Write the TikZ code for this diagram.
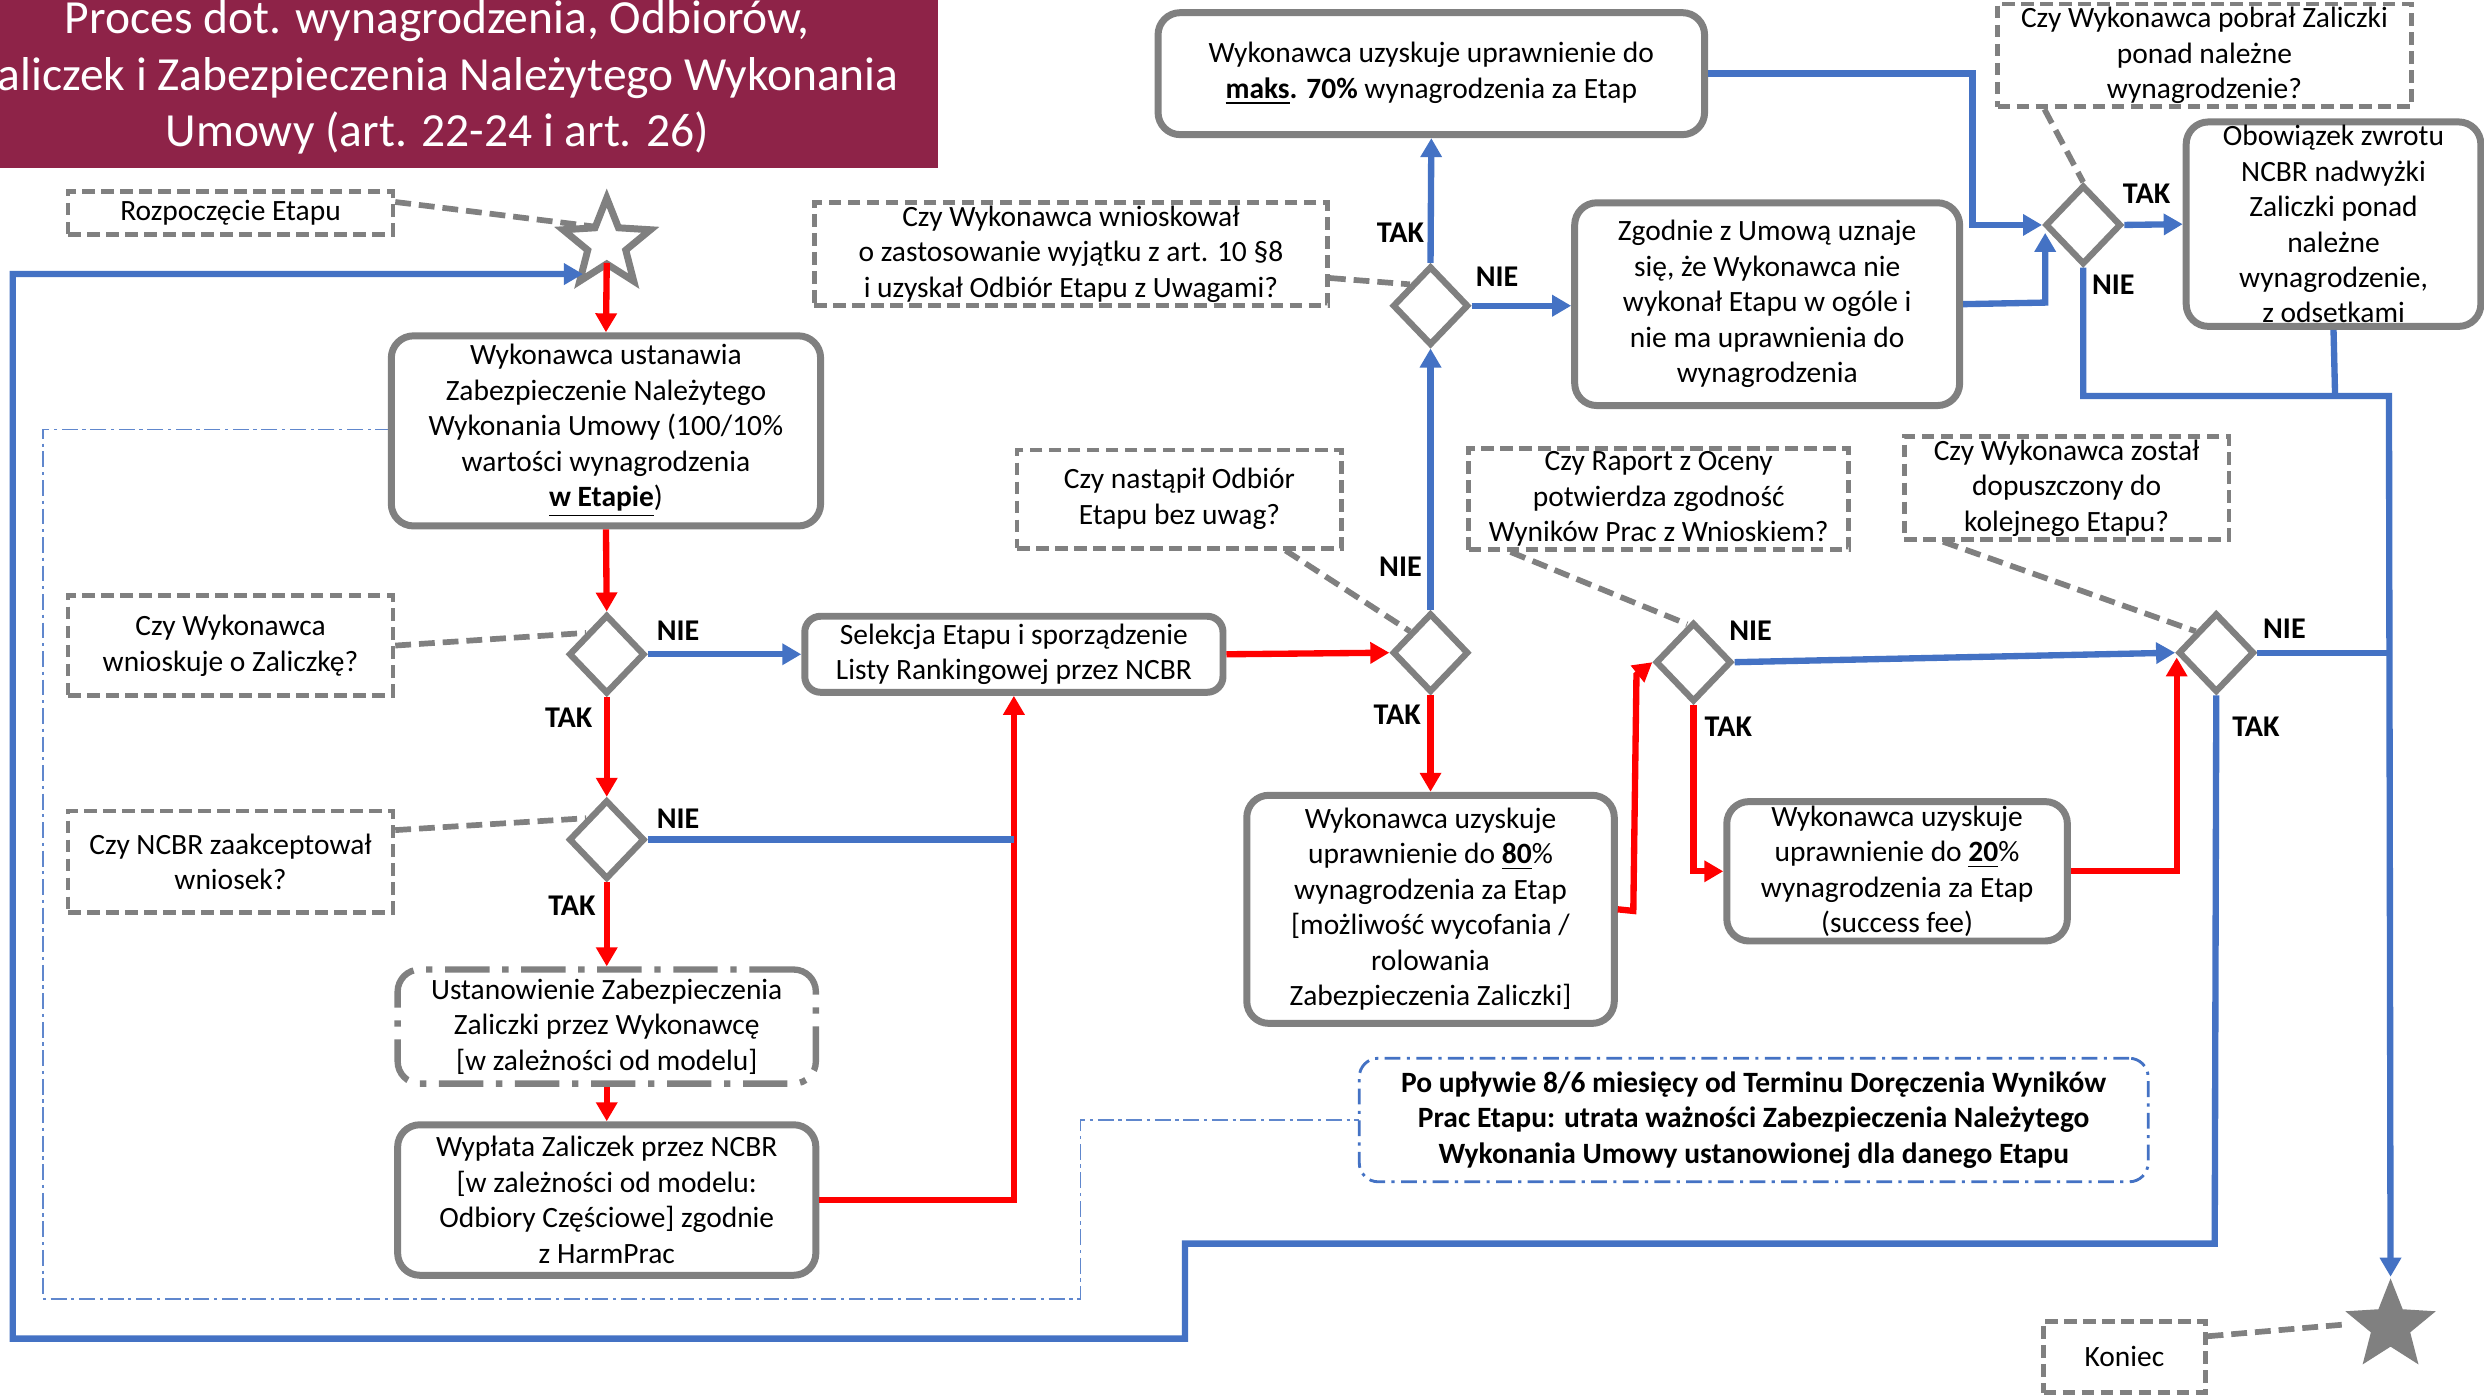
\documentclass[tikz,border=0pt]{standalone}
\usepackage{fontspec}
\setmainfont{Carlito}
\usetikzlibrary{shapes.geometric,arrows.meta,calc}
\definecolor{bl}{RGB}{68,114,196}
\definecolor{rd}{RGB}{255,0,0}
\definecolor{gr}{RGB}{128,128,128}
\definecolor{titlecol}{RGB}{142,35,72}
\newcommand{\bodyfont}{\fontsize{9.3}{11.2}\selectfont}
\tikzset{
  box/.style={draw=gr, line width=2.2pt, rounded corners=7pt, fill=white, align=center, inner sep=1pt, font=\bodyfont},
  qbox/.style={draw=gr, line width=1.5pt, dash pattern=on 4pt off 2pt, fill=white, align=center, inner sep=1pt, font=\bodyfont},
  dia/.style={draw=gr, line width=2pt, diamond, fill=white, minimum width=24pt, minimum height=25pt, inner sep=0pt},
  lbl/.style={font=\fontsize{9.5}{11}\selectfont\bfseries, inner sep=0pt},
  bcon/.style={draw=bl, line width=2pt},
  rcon/.style={draw=rd, line width=2pt},
  arr/.style={-{Triangle[length=6pt,width=6.5pt]}},
  dcon/.style={draw=gr, line width=1.8pt, dash pattern=on 5pt off 2.5pt},
  thinbl/.style={draw=bl!85, line width=0.5pt, dash pattern=on 5pt off 1.5pt on 1pt off 1.5pt}
}
\begin{document}
\begin{tikzpicture}[x=0.5pt,y=-0.5pt]
\useasboundingbox (0,0) rectangle (1568,882);
\clip (0,0) rectangle (1568,882);
\fill[white] (0,0) rectangle (1568,882);
% title
\fill[titlecol] (-5,-5) rectangle (592,106);
\node[text=white, align=center, font=\fontsize{15}{17.8}\selectfont] (title) at (276,49)
  {Proces dot. wynagrodzenia, Odbiorów,\\Zaliczek i Zabezpieczenia Należytego Wykonania\\Umowy (art. 22-24 i art. 26)};

% thin dash-dot blue guide
\draw[thinbl] (247,271) -- (27,271) -- (27,820) -- (682,820) -- (682,707) -- (858,707);

% nodes
\node[star, star points=5, star point ratio=2.3, minimum size=29pt, draw=gr, line width=2.2pt, fill=white, inner sep=0pt] (st) at (383,154) {};
\node[star, star points=5, star point ratio=2.3, minimum size=30pt, fill=gr, inner sep=0pt] (en) at (1509,837) {};

\node[qbox, minimum width=102.5pt, minimum height=13.5pt] (roz) at (145.5,134.5) {Rozpoczęcie Etapu};
\node[qbox, minimum width=102.5pt, minimum height=31.5pt] (qzal) at (145.5,407.5) {Czy Wykonawca\\wnioskuje o Zaliczkę?};
\node[qbox, minimum width=102.5pt, minimum height=32pt] (qncbr) at (145.5,544) {Czy NCBR zaakceptował\\wniosek?};
\node[box, minimum width=135.5pt, minimum height=60pt] (ust) at (382.5,272)
  {Wykonawca ustanawia\\Zabezpieczenie Należytego\\Wykonania Umowy (100/10\%\\wartości wynagrodzenia\\\underline{\textbf{w Etapie}})};
\node[box, minimum width=132pt, minimum height=24pt, rounded corners=5pt] (sel) at (640,413)
  {Selekcja Etapu i sporządzenie\\Listy Rankingowej przez NCBR};
\node[box, minimum width=132pt, minimum height=36pt, dash pattern=on 14pt off 4pt on 2pt off 4pt, line width=2pt] (ustz) at (383,648)
  {Ustanowienie Zabezpieczenia\\Zaliczki przez Wykonawcę\\{[w zależności od modelu]}};
\node[box, minimum width=132pt, minimum height=47.5pt] (wyp) at (383,757.5)
  {Wypłata Zaliczek przez NCBR\\{[w zależności od modelu:}\\Odbiory Częściowe] zgodnie\\z HarmPrac};
\node[qbox, minimum width=102.5pt, minimum height=31pt] (qodb) at (744.5,315) {Czy nastąpił Odbiór\\Etapu bez uwag?};
\node[qbox, minimum width=162pt, minimum height=32.5pt] (qwyj) at (676,160.5)
  {Czy Wykonawca wnioskował\\o zastosowanie wyjątku z art. 10 §8\\i uzyskał Odbiór Etapu z Uwagami?};
\node[box, minimum width=172.5pt, minimum height=38.5pt] (b70) at (903.5,46.5)
  {Wykonawca uzyskuje uprawnienie do\\\underline{\textbf{maks}}\textbf{. 70\%} wynagrodzenia za Etap};
\node[box, minimum width=121.5pt, minimum height=64pt] (zgod) at (1115.5,192)
  {Zgodnie z Umową uznaje\\się, że Wykonawca nie\\wykonał Etapu w ogóle i\\nie ma uprawnienia do\\wynagrodzenia};
\node[qbox, minimum width=130.5pt, minimum height=31.5pt] (qpob) at (1391.5,35)
  {Czy Wykonawca pobrał Zaliczki\\ponad należne\\wynagrodzenie?};
\node[box, minimum width=93pt, minimum height=64.5pt] (obow) at (1473,141.5)
  {Obowiązek zwrotu\\NCBR nadwyżki\\Zaliczki ponad\\należne\\wynagrodzenie,\\z odsetkami};
\node[box, minimum width=116pt, minimum height=72pt] (b80) at (903,574)
  {Wykonawca uzyskuje\\uprawnienie do \underline{\textbf{80}}\%\\wynagrodzenia za Etap\\{[możliwość wycofania /}\\rolowania\\Zabezpieczenia Zaliczki]};
\node[qbox, minimum width=120pt, minimum height=31pt] (qrap) at (1047,315)
  {Czy Raport z Oceny\\potwierdza zgodność\\Wyników Prac z Wnioskiem?};
\node[box, minimum width=107.5pt, minimum height=44pt] (b20) at (1197.5,550)
  {Wykonawca uzyskuje\\uprawnienie do \underline{\textbf{20}}\%\\wynagrodzenia za Etap\\(success fee)};
\node[qbox, minimum width=102.5pt, minimum height=31pt] (qdop) at (1304.5,308)
  {Czy Wykonawca został\\dopuszczony do\\kolejnego Etapu?};
\node[qbox, minimum width=51pt, minimum height=22.5pt] (kon) at (1341,856.5) {Koniec};
\node[draw=bl, line width=0.9pt, dash pattern=on 5pt off 2pt on 1pt off 2pt, rounded corners=6pt, align=center,
      minimum width=249pt, minimum height=39pt, inner sep=1pt, font=\bodyfont\bfseries] (po) at (1107,707)
  {Po upływie 8/6 miesięcy od Terminu Doręczenia Wyników\\Prac Etapu: utrata ważności Zabezpieczenia Należytego\\Wykonania Umowy ustanowionej dla danego Etapu};

% diamonds
\node[dia] (d1) at (383,413) {};
\node[dia] (d2) at (383,530) {};
\node[dia] (d3) at (903,412) {};
\node[dia] (d4) at (903,193) {};
\node[dia] (d5) at (1315,142) {};
\node[dia] (d7) at (1069,418) {};
\node[dia] (d8) at (1399,412) {};

% dashed callouts
\draw[dcon] ($(roz.east)+(0,-7)$) -- ($(st.center)+(-8,-11)$);
\draw[dcon] (qzal.east) -- (d1.north west);
\draw[dcon] ($(qncbr.east)+(0,-20)$) -- (d2.north west);
\draw[dcon] ($(qwyj.east)+(0,15)$) -- (d4.north west);
\draw[dcon] ($(qodb.south east)+(-37,0)$) -- (d3.north west);
\draw[dcon] ($(qrap.south west)+(28,0)$) -- ($(d7.north)+(-4,3)$);
\draw[dcon] ($(qpob.south west)+(31,0)$) -- (d5.north);
\draw[dcon] ($(qdop.south west)+(26,0)$) -- (d8.north west);
\draw[dcon] ($(kon.east)+(0,-13)$) -- ($(en.center)+(-28,-1)$);

% red connectors
\draw[rcon,arr] ($(st.center)+(0,12)$) -- (ust.north);
\draw[rcon,arr] (ust.south) -- (d1.north);
\draw[rcon,arr] (d1.south) -- (d2.north);
\draw[rcon,arr] (d2.south) -- (ustz.north);
\draw[rcon,arr] (ustz.south) -- (wyp.north);
\draw[rcon,arr] (wyp.east) -| (sel.south);
\draw[rcon,arr] (sel.east) -- (d3.west);
\draw[rcon,arr] (d3.south) -- (b80.north);
\draw[rcon,arr] (b80.east) -- (1031,575) -- (1033,426) -- (d7.west);
\draw[rcon,arr] (d7.south) |- (b20.west);
\draw[rcon,arr] (b20.east) -| ($(d8.west)+(1,3)$);

% blue connectors
\draw[bcon,arr] (d1.east) -- (sel.west);
\draw[bcon] (d2.east) -- (d2.east -| sel.south);
\draw[bcon,arr] (d3.north) -- (d4.south);
\draw[bcon,arr] (d4.north) -- (b70.south);
\draw[bcon,arr] (d4.east) -- (d4.east -| zgod.west);
\draw[bcon,arr] (b70.east) -- (1245,46.5) -- (1245,142) -- (d5.west);
\draw[bcon,arr] (zgod.east) -- (1291,191) -- (1291,147);
\draw[bcon,arr] (d5.east) -- (obow.west);
\draw[bcon] (obow.south) -- (1474,250);
\draw[bcon,arr] (d5.south) -- (1315,250) -- (1508,250) -- (en.north);
\draw[bcon,arr] (d7.east) -- (d8.west);
\draw[bcon] (d8.east) -- (1508,412);
\draw[bcon,arr] (d8.south) -- (1398,785) -- (748,785) -- (748,845) -- (8,845) -- (8,173) -- ($(st.center)+(-15,19)$);

% labels
\node[lbl] (l1n) at (428,398) {NIE};
\node[lbl] (l1t) at (359,453) {TAK};
\node[lbl] (l2n) at (428,517) {NIE};
\node[lbl] (l2t) at (361,572) {TAK};
\node[lbl] (l3n) at (884,358) {NIE};
\node[lbl] (l3t) at (882,451) {TAK};
\node[lbl] (l4t) at (884,147) {TAK};
\node[lbl] (l4n) at (945,175) {NIE};
\node[lbl] (l5t) at (1355,122) {TAK};
\node[lbl] (l5n) at (1334,180) {NIE};
\node[lbl] (l7n) at (1105,398) {NIE};
\node[lbl] (l7t) at (1091,459) {TAK};
\node[lbl] (l8n) at (1442,397) {NIE};
\node[lbl] (l8t) at (1424,459) {TAK};
\end{tikzpicture}
\end{document}
